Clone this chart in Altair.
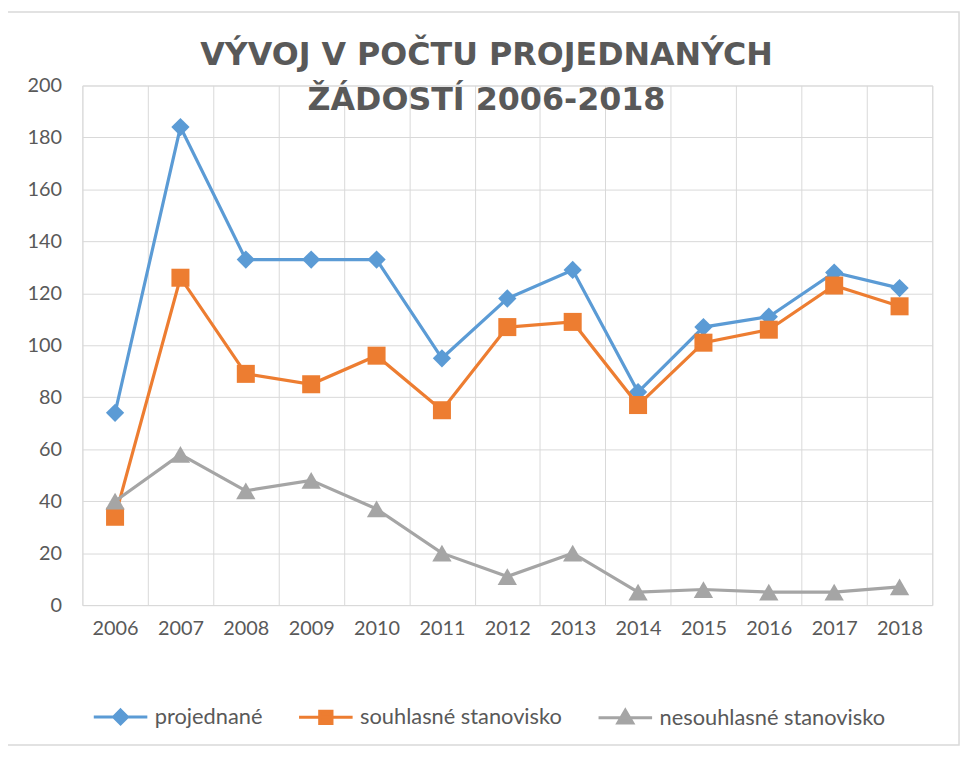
import altair as alt
import pandas as pd

years = [str(y) for y in range(2006, 2019)]
projednane = [74, 184, 133, 133, 133, 95, 118, 129, 82, 107, 111, 128, 122]
souhlasne = [34, 126, 89, 85, 96, 75, 107, 109, 77, 101, 106, 123, 115]
nesouhlasne = [40, 58, 44, 48, 37, 20, 11, 20, 5, 6, 5, 5, 7]
series_names = ["projednané", "souhlasné stanovisko", "nesouhlasné stanovisko"]
colors = ["#5B9BD5", "#ED7D31", "#A5A5A5"]
marker_shapes = ["diamond", "square", "triangle-up"]
marker_sizes = [340, 330, 380]
legend_paths = [
    "M -1 0 L 1 0 M 0 -0.26 L 0.26 0 L 0 0.26 L -0.26 0 Z",
    "M -1 0 L 1 0 M -0.23 -0.23 L 0.23 -0.23 L 0.23 0.23 L -0.23 0.23 Z",
    "M -1 0 L 1 0 M 0 -0.28 L 0.28 0.2 L -0.28 0.2 Z",
]
title_lines = ["VÝVOJ V POČTU PROJEDNANÝCH", "ŽÁDOSTÍ 2006-2018"]

rows = []
for name, vals in zip(series_names, [projednane, souhlasne, nesouhlasne]):
    for yr, v in zip(years, vals):
        rows.append({"rok": yr, "hodnota": v, "serie": name})
df = pd.DataFrame(rows)

TXT = "#595959"
GRID = "#D9D9D9"

x_enc = alt.X(
    "rok:O",
    sort=years,
    scale=alt.Scale(type="band", paddingInner=0, paddingOuter=0),
    axis=alt.Axis(
        title=None, labelAngle=0, tickBand="extent", grid=True, gridColor=GRID,
        gridWidth=1, ticks=False, tickSize=0, domain=False, labelFont="Lato",
        labelFontSize=20, labelColor=TXT, labelPadding=14,
    ),
)
y_enc = alt.Y(
    "hodnota:Q",
    scale=alt.Scale(domain=[0, 200], nice=False),
    axis=alt.Axis(
        title=None, values=list(range(0, 201, 20)), grid=True, gridColor=GRID,
        gridWidth=1, ticks=False, tickSize=0, domain=False, labelFont="Lato",
        labelFontSize=20, labelColor=TXT, labelPadding=21,
    ),
)

base = alt.Chart(df)

series_layers = []
for name, col, shp, sz in zip(series_names, colors, marker_shapes, marker_sizes):
    sub = base.transform_filter(alt.datum.serie == name)
    series_layers.append(
        sub.mark_line(strokeWidth=3.2, color=col).encode(x=x_enc, y=y_enc)
    )
    series_layers.append(
        sub.mark_point(filled=True, opacity=1, shape=shp, size=sz, color=col)
        .encode(x=x_enc, y=y_enc)
    )


def leg():
    return alt.Legend(
        title=None, orient="none", legendX=10, legendY=608, direction="horizontal",
        symbolSize=2916, symbolStrokeWidth=3, labelFont="Lato", labelFontSize=22,
        labelColor=TXT, labelOffset=6, columnPadding=30, padding=0,
        symbolOpacity=1, labelLimit=400,
    )


legend_layer = base.transform_filter("false").mark_point(
    filled=True, opacity=1, strokeWidth=3
).encode(
    x=x_enc, y=y_enc,
    fill=alt.Fill("serie:N", scale=alt.Scale(domain=series_names, range=colors), legend=leg()),
    stroke=alt.Stroke("serie:N", scale=alt.Scale(domain=series_names, range=colors), legend=leg()),
    shape=alt.Shape("serie:N", scale=alt.Scale(domain=series_names, range=legend_paths), legend=leg()),
)

border = alt.Chart(pd.DataFrame({"a": [0]})).mark_rect(
    fill=None, stroke=GRID, strokeWidth=1.5
).encode(x=alt.value(-76), x2=alt.value(884), y=alt.value(-74), y2=alt.value(665))

chart = alt.layer(border, *series_layers, legend_layer).properties(
    width=857,
    height=524,
    autosize=alt.AutoSizeParams(type="none"),
    padding={"left": 75, "top": 75, "right": 30, "bottom": 143},
    title=alt.TitleParams(
        text=title_lines, font="DejaVu Sans", fontWeight="bold", fontSize=32,
        color=TXT, anchor="middle", lineHeight=46, dx=-21, dy=143, baseline="bottom",
    ),
).configure_view(stroke=GRID, strokeWidth=1).configure(background="white")

chart.save("out.html", embed_options={"renderer": "svg", "actions": False})
